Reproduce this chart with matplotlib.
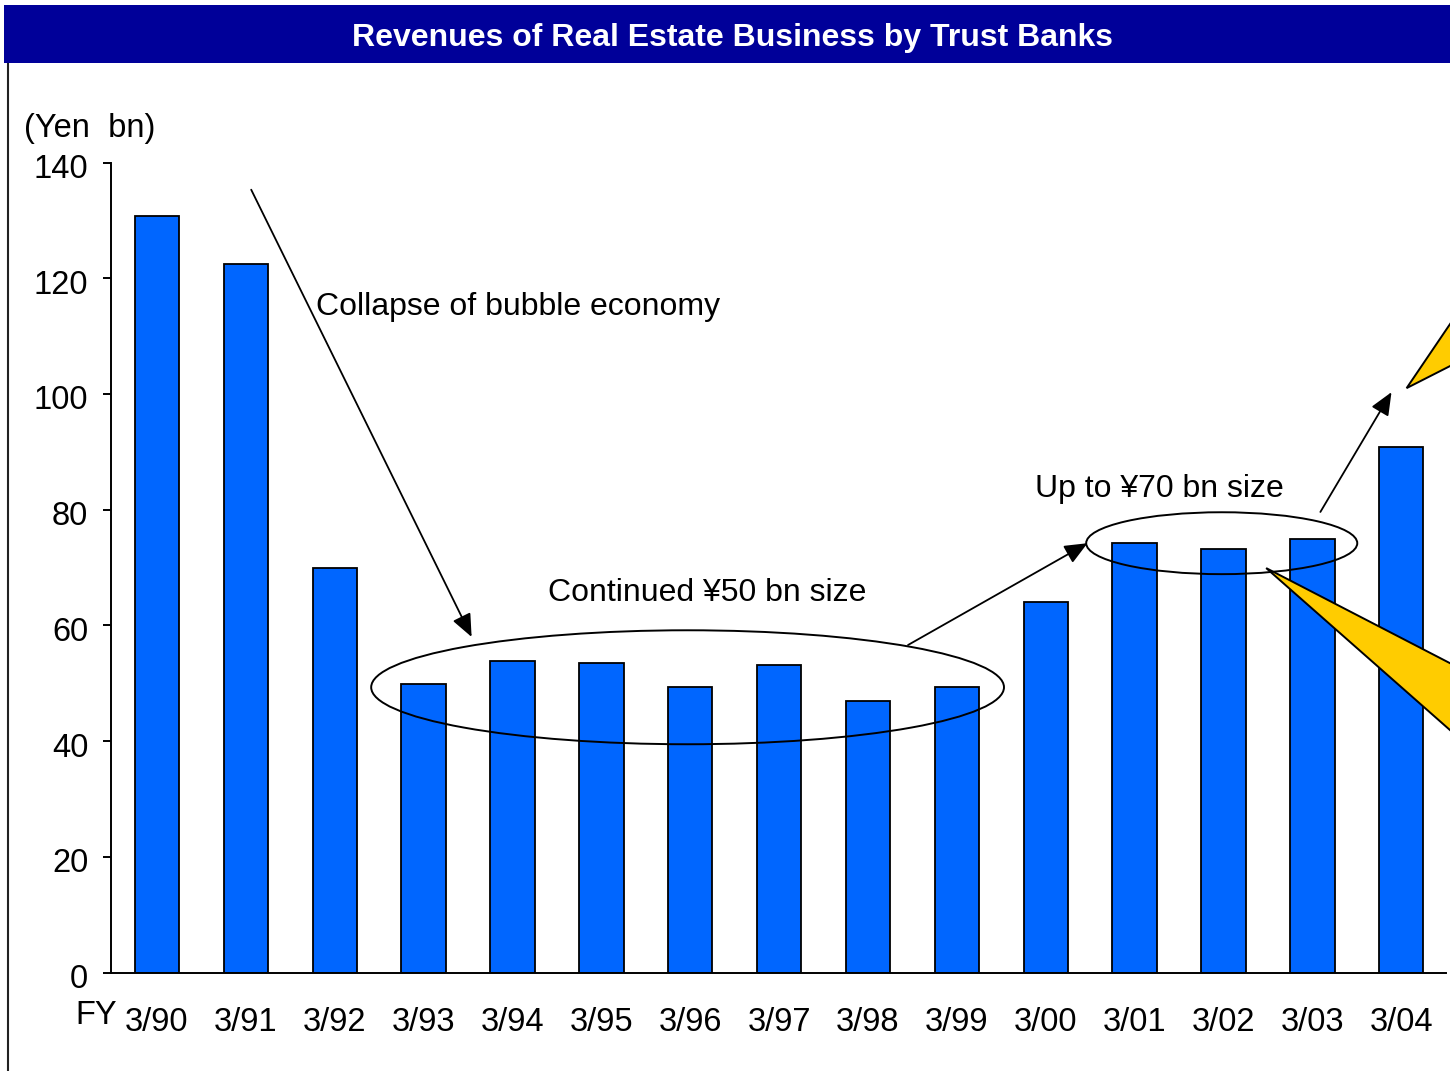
import matplotlib
matplotlib.use("Agg")
import matplotlib.pyplot as plt
import matplotlib.transforms as mtransforms
from matplotlib.lines import Line2D
from matplotlib.patches import Ellipse, Polygon, Rectangle

plt.rcParams["font.family"] = ["Liberation Sans", "DejaVu Sans"]

# Revenues of the real estate business, yen bn, by fiscal year
fiscal_years = ["3/90", "3/91", "3/92", "3/93", "3/94", "3/95", "3/96", "3/97",
                "3/98", "3/99", "3/00", "3/01", "3/02", "3/03", "3/04"]
revenues = [130.7, 122.4, 69.9, 49.8, 53.9, 53.5, 49.4, 53.2,
            47.0, 49.4, 64.0, 74.3, 73.2, 75.0, 90.9]
y_ticks = [0, 20, 40, 60, 80, 100, 120, 140]

title = "Revenues of Real Estate Business by Trust Banks"
unit_label = "(Yen  bn)"
note_collapse = "Collapse of bubble economy"
note_flat = "Continued \u00a550 bn size"
note_up = "Up to \u00a570 bn size"

W, H = 1450, 1071
fig = plt.figure(figsize=(W / 100, H / 100), dpi=100)
fig.patch.set_facecolor("white")

# header band
fig.patches.append(Rectangle((4 / W, 1 - 63 / H), 1, 58 / H, transform=fig.transFigure,
                             facecolor="#000099", edgecolor="none", zorder=0))
fig.text(732 / W, 1 - 38 / H, title, color="white", fontsize=23, fontweight="bold",
         ha="center", va="center")
fig.lines.append(Line2D([7.5 / W, 7.5 / W], [0, 1 - 64 / H], transform=fig.transFigure,
                        color="#222222", lw=1.5))

ax = fig.add_axes([111 / W, 98.5 / H, (1445.7 - 111) / W, 810 / H])
x = list(range(len(fiscal_years)))
ax.bar(x, revenues, width=0.5, color="#0066FF", edgecolor="black", linewidth=1.3, zorder=2)

ax.set_xlim(-0.5175, 14.5)
ax.set_ylim(0, 140)
ax.set_yticks(y_ticks)
ax.set_xticks(x)
ax.set_xticklabels(fiscal_years)
ax.tick_params(axis="y", direction="out", length=5.8, width=1.4, pad=10.5, labelsize=23.5)
ax.tick_params(axis="x", length=0, pad=25, labelsize=23.5)
for side in ("top", "right"):
    ax.spines[side].set_visible(False)
for side in ("left", "bottom"):
    ax.spines[side].set_linewidth(1.4)

# nudge the value labels a little below their ticks
shift = mtransforms.ScaledTranslation(0, -3.5 / 100, fig.dpi_scale_trans)
for lbl in ax.get_yticklabels():
    lbl.set_transform(lbl.get_transform() + shift)

fig.text(24 / W, 1 - 129 / H, unit_label, fontsize=23.5, ha="left", va="center")
fig.text(96 / W, 1 - 1015 / H, "FY", fontsize=23.5, ha="center", va="center")

# arrows and notes
arrow = dict(arrowstyle="-|>,head_length=0.7,head_width=0.3", mutation_scale=20,
             color="black", lw=1.3, shrinkA=0, shrinkB=0)
ax.annotate("", xy=(3.54, 58.0), xytext=(1.06, 135.3), arrowprops=arrow, annotation_clip=False)
ax.annotate("", xy=(10.47, 74.2), xytext=(8.45, 56.6), arrowprops=arrow, annotation_clip=False)
ax.annotate("", xy=(13.89, 100.3), xytext=(13.09, 79.6), arrowprops=arrow, annotation_clip=False)

ax.text(1.79, 115.0, note_collapse, fontsize=23, ha="left", va="center")
ax.text(6.19, 65.6, note_flat, fontsize=23, ha="center", va="center")
ax.text(11.28, 83.6, note_up, fontsize=23, ha="center", va="center")

ax.add_patch(Ellipse((5.97, 49.3), 7.12, 19.7, fill=False, edgecolor="black", lw=1.4,
                     zorder=3, clip_on=False))
ax.add_patch(Ellipse((11.98, 74.2), 3.05, 10.7, fill=False, edgecolor="black", lw=1.4,
                     zorder=3, clip_on=False))

# yellow callout pointers running off the right edge
ax.add_patch(Polygon([(12.48, 69.9), (15.11, 49.0), (15.11, 34.3)], closed=True,
                     facecolor="#FFCC00", edgecolor="black", lw=1.4, zorder=4, clip_on=False))
ax.add_patch(Polygon([(14.06, 101.0), (15.11, 124.8), (15.11, 109.2)], closed=True,
                     facecolor="#FFCC00", edgecolor="black", lw=1.4, zorder=4, clip_on=False))

fig.savefig("out.png", dpi=100)
